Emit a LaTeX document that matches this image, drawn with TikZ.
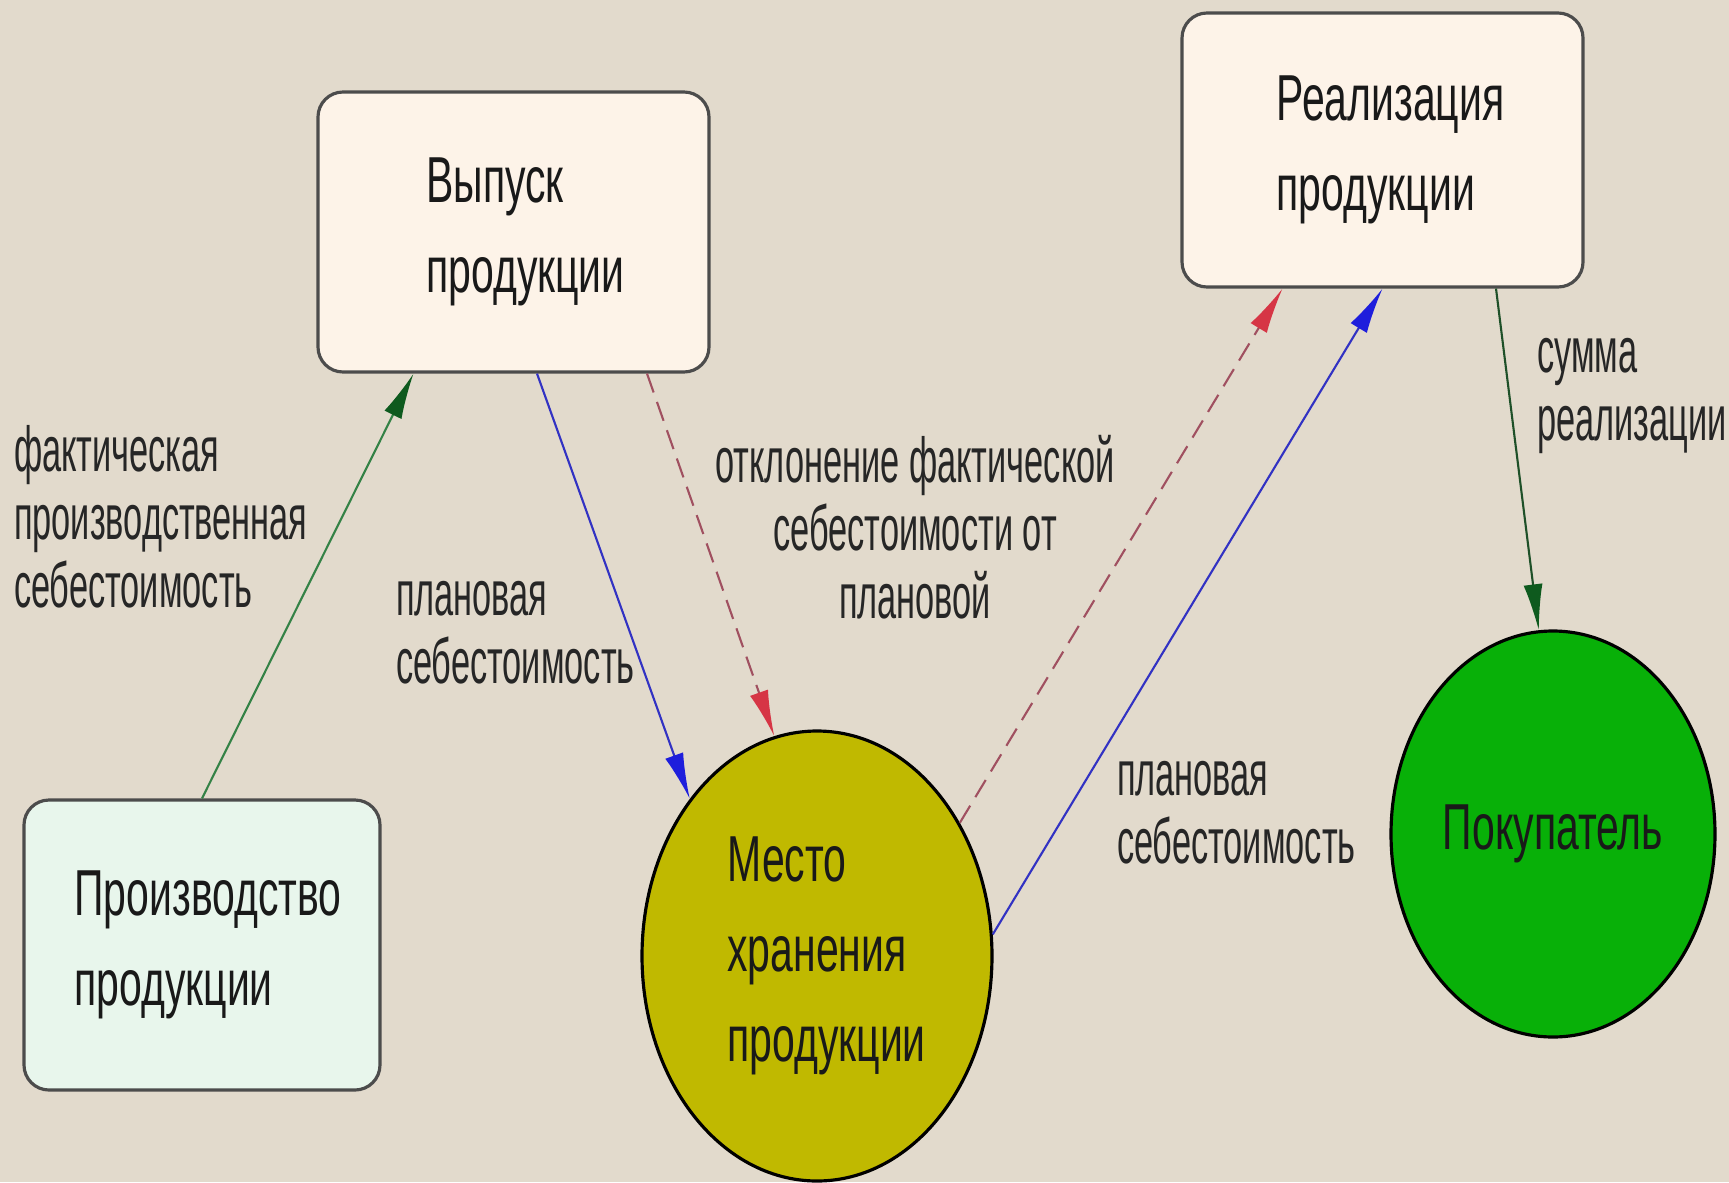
\documentclass[tikz,border=0pt]{standalone}
\usepackage{fontspec}
\newfontfamily\lblfont{Liberation Sans}[FakeStretch=0.54]
\newfontfamily\boxfont{Liberation Sans}[FakeStretch=0.63]
\usetikzlibrary{arrows.meta, positioning, shapes.geometric}

\definecolor{bgbeige}{RGB}{226,218,204}
\definecolor{boxcream}{RGB}{253,243,232}
\definecolor{boxmint}{RGB}{232,246,236}
\definecolor{mestocol}{RGB}{192,185,0}
\definecolor{buyergreen}{RGB}{8,176,8}
\definecolor{linegreen}{RGB}{52,130,70}
\definecolor{tipgreen}{RGB}{14,90,30}
\definecolor{lineblue}{RGB}{50,50,195}
\definecolor{tipblue}{RGB}{30,30,220}
\definecolor{linered}{RGB}{160,80,96}
\definecolor{tipred}{RGB}{214,53,69}
\definecolor{linedkgreen}{RGB}{30,80,40}

\begin{document}
\begin{tikzpicture}[->, on grid, line width=0.6pt,
    box/.style={rectangle, rounded corners=0.25cm, draw=black!70, line width=0.9pt, minimum width=3.91cm, minimum height=2.8cm, align=left, text=black!90, font=\boxfont\fontsize{18.5}{25.6}\selectfont},
    oval/.style={ellipse, draw=black, line width=0.9pt, inner sep=0pt, align=left, text=black!90, font=\boxfont\fontsize{18.5}{25.6}\selectfont},
    lbl/.style={inner sep=0pt, align=left, text=black!85, font=\lblfont\fontsize{18.1}{19.4}\selectfont},
    grnline/.style={draw=linegreen, -{Latex[length=4.6mm,width=1.9mm,color=tipgreen]}},
    bluline/.style={draw=lineblue, -{Latex[length=4.6mm,width=1.9mm,color=tipblue]}},
    redline/.style={draw=linered, dash pattern=on 0.2cm off 0.1cm, -{Latex[length=4.6mm,width=1.9mm,color=tipred]}},
    dkgline/.style={draw=linedkgreen, -{Latex[length=4.6mm,width=1.9mm,color=tipgreen]}}]

    \fill[bgbeige] (0,0) rectangle (17.29,11.82);
    \useasboundingbox (0,0) rectangle (17.29,11.82);

    \node (proizv) [box, fill=boxmint, minimum width=3.56cm, minimum height=2.9cm] at (2.02,2.37) {Производство\hspace*{-0.12cm}\\продукции};
    \node (vypusk) [box, fill=boxcream, above right=7.13cm and 3.115cm of proizv] {Выпуск\\продукции\hspace*{-0.24cm}};
    \node (mesto) [oval, fill=mestocol, minimum width=3.5cm, minimum height=4.5cm, below right=0.11cm and 6.15cm of proizv] {Место\\хранения\\продукции\hspace*{-0.38cm}};
    \node (realiz) [box, fill=boxcream, minimum width=4.01cm, minimum height=2.74cm, above right=0.82cm and 8.69cm of vypusk] {Реализация\hspace*{-0.16cm}\\продукции};
    \node (pokup) [oval, fill=buyergreen, minimum width=3.24cm, minimum height=4.06cm, above right=1.22cm and 7.36cm of mesto] {Покупатель};

    \node (fakt) [lbl, anchor=west] at (0.13,6.65) {фактическая\\производственная\\себестоимость};
    \node (plan1) [lbl, anchor=west] at (3.95,5.49) {плановая\\себестоимость};
    \node (otkl) [lbl, align=center] at (9.15,6.55) {отклонение фактической\\себестоимости от\\плановой};
    \node (plan2) [lbl, anchor=west] at (11.16,3.69) {плановая\\себестоимость};
    \node (summa) [lbl, anchor=west] at (15.36,7.86) {сумма\\реализации};

    \draw[grnline] (proizv.north) -- ([xshift=-1cm]vypusk.south);
    \draw[bluline] ([xshift=0.235cm]vypusk.south) -- (mesto.129);
    \draw[redline] ([xshift=1.335cm]vypusk.south) -- (mesto.101);
    \draw[redline] (mesto.43) -- ([xshift=-1cm]realiz.south);
    \draw[bluline] (mesto.7) -- (realiz.south);
    \draw[dkgline] ([xshift=1.135cm]realiz.south) -- (pokup.94);
\end{tikzpicture}
\end{document}
